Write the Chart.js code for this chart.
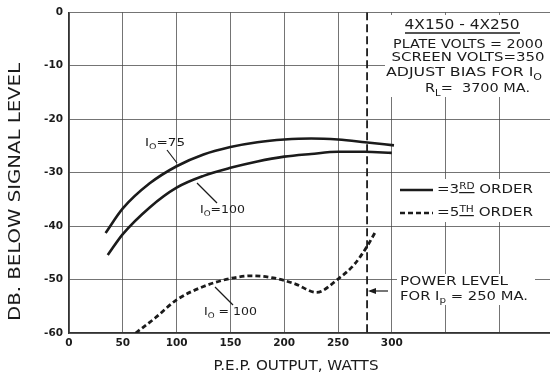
<!DOCTYPE html>
<html>
<head>
<meta charset="utf-8">
<script src="https://cdn.jsdelivr.net/npm/chart.js@4.4.0/dist/chart.umd.min.js"></script>
<style>
  html, body { margin: 0; background: #fff; }
  canvas { display: block; }
</style>
</head>
<body>
<canvas id="chart" width="550" height="376"></canvas>
<script>
// Distortion products vs P.E.P. output, 4X150 - 4X250
const wattsIo75 = [34, 50, 75, 100, 125, 150, 175, 200, 225, 250, 275, 302];
const dbIo75_3rd = [-41.3, -36.7, -32.0, -28.8, -26.6, -25.2, -24.3, -23.8, -23.6, -23.8, -24.3, -24.9];

const wattsIo100 = [36, 50, 75, 100, 125, 150, 175, 200, 225, 250, 275, 300];
const dbIo100_3rd = [-45.4, -41.5, -36.5, -32.8, -30.6, -29.1, -27.9, -27.0, -26.5, -26.1, -26.1, -26.3];

const watts5th = [62, 80, 100, 125, 150, 170, 190, 210, 230, 250, 265, 277, 285];
const dbIo100_5th = [-60, -57.2, -53.8, -51.3, -49.8, -49.3, -49.7, -50.8, -52.4, -49.9, -47.2, -43.8, -41.0];

const powerLimitWatts = 277;   // power level for Ip = 250 mA

const xTickValues = [0, 50, 100, 150, 200, 250, 300, 350, 400];
const xTickLabels = ['0', '50', '100', '150', '200', '250', '300', '', ''];
const yTickValues = [0, -10, -20, -30, -40, -50, -60];

const INK = '#1b1b1b';
const GRID = 'rgba(70,70,70,0.75)';
const FONT = '"DejaVu Sans", sans-serif';

const pts = (xs, ys) => xs.map((x, i) => ({ x, y: ys[i] }));

// texte en morceaux : [texte, 'sub' | 'sup' | 'supu'] ; largeur forcée si width
function rich(ctx, x, y, size, width, parts, align) {
  ctx.save();
  const items = parts.map((p) => {
    const [t, m = ''] = Array.isArray(p) ? p : [p];
    const s = m ? size * 0.7 : size;
    ctx.font = `${s}px ${FONT}`;
    return { t, m, s, w: ctx.measureText(t).width };
  });
  const total = items.reduce((a, b) => a + b.w, 0);
  const k = width ? width / total : 1;
  const x0 = align === 'center' ? x - (total * k) / 2 : x;
  ctx.translate(x0, y);
  ctx.scale(k, 1);
  ctx.textBaseline = 'middle';
  ctx.fillStyle = INK;
  let cx = 0;
  for (const it of items) {
    ctx.font = `${it.s}px ${FONT}`;
    let dy = 0;
    if (it.m === 'sub') dy = size * 0.32;
    if (it.m.startsWith('sup')) dy = -size * 0.28;
    ctx.fillText(it.t, cx, dy);
    if (it.m === 'supu') ctx.fillRect(cx, dy + it.s * 0.62, it.w, 1.2);
    cx += it.w;
  }
  ctx.restore();
}

function line(ctx, x1, y1, x2, y2, w, dash) {
  ctx.save();
  ctx.strokeStyle = INK;
  ctx.lineWidth = w;
  ctx.setLineDash(dash || []);
  ctx.beginPath();
  ctx.moveTo(x1, y1);
  ctx.lineTo(x2, y2);
  ctx.stroke();
  ctx.restore();
}

const annotations = {
  id: 'annotations',
  beforeDatasetsDraw(chart) {
    const ctx = chart.ctx;
    ctx.save();
    ctx.fillStyle = '#fff';
    ctx.fillRect(385, 15, 165, 82);    // bloc titre
    ctx.fillRect(395, 179, 155, 43);   // légende
    ctx.fillRect(397, 274, 138, 31);   // power level
    ctx.restore();
  },
  afterDraw(chart) {
    const ctx = chart.ctx;

    // titres d'axes
    ctx.save();
    ctx.translate(16, 192);
    ctx.rotate(-Math.PI / 2);
    rich(ctx, 0, 0, 15, 258, ['DB. BELOW SIGNAL LEVEL'], 'center');
    ctx.restore();
    rich(ctx, 296, 366, 14, 165, ['P.E.P. OUTPUT, WATTS'], 'center');

    // bloc titre
    rich(ctx, 462, 25, 14, 115, ['4X150 - 4X250'], 'center');
    line(ctx, 405, 33, 520, 33, 1.3);
    rich(ctx, 468, 45, 13, 150, ['PLATE VOLTS = 2000'], 'center');
    rich(ctx, 468, 58, 13, 153, ['SCREEN VOLTS=350'], 'center');
    rich(ctx, 464, 73, 13, 156, ['ADJUST BIAS FOR I', ['O', 'sub']], 'center');
    rich(ctx, 425, 89, 13, 105, ['R', ['L', 'sub'], '=  3700 MA.']);

    // légende
    line(ctx, 400, 190, 433, 190, 2.6);
    rich(ctx, 437, 190, 13, 96, ['=3', ['RD', 'supu'], ' ORDER']);
    line(ctx, 400, 213, 433, 213, 2.6, [5, 3]);
    rich(ctx, 437, 213, 13, 96, ['=5', ['TH', 'supu'], ' ORDER']);

    // power level
    rich(ctx, 400, 282, 12, 108, ['POWER LEVEL']);
    rich(ctx, 400, 297, 12, 128, ['FOR I', ['p', 'sub'], ' = 250 MA.']);
    line(ctx, 388, 291, 370, 291, 1.2);
    ctx.save();
    ctx.fillStyle = INK;
    ctx.beginPath();
    ctx.moveTo(368, 291);
    ctx.lineTo(376, 288);
    ctx.lineTo(376, 294);
    ctx.closePath();
    ctx.fill();
    ctx.restore();

    // étiquettes Io
    rich(ctx, 145, 143, 11, 40, ['I', ['O', 'sub'], '=75']);
    line(ctx, 167, 150, 177, 163, 1.2);
    rich(ctx, 200, 210, 11, 45, ['I', ['O', 'sub'], '=100']);
    line(ctx, 197, 183, 217, 203, 1.2);
    rich(ctx, 204, 312, 11, 53, ['I', ['O', 'sub'], ' = 100']);
    line(ctx, 215, 287, 233, 305, 1.2);
  },
};

const tickFont = { family: FONT, size: 10.5, weight: 'bold' };

new Chart(document.getElementById('chart'), {
  type: 'line',
  data: {
    datasets: [
      {
        label: '3rd order, Io = 75',
        data: pts(wattsIo75, dbIo75_3rd),
        borderColor: INK, borderWidth: 2.6,
        cubicInterpolationMode: 'monotone', pointRadius: 0,
      },
      {
        label: '3rd order, Io = 100',
        data: pts(wattsIo100, dbIo100_3rd),
        borderColor: INK, borderWidth: 2.6,
        cubicInterpolationMode: 'monotone', pointRadius: 0,
      },
      {
        label: '5th order, Io = 100',
        data: pts(watts5th, dbIo100_5th),
        borderColor: INK, borderWidth: 2.8, borderDash: [5, 3],
        cubicInterpolationMode: 'monotone', pointRadius: 0,
      },
      {
        label: 'Power level for Ip = 250 mA',
        data: [{ x: powerLimitWatts, y: yTickValues[0] }, { x: powerLimitWatts, y: yTickValues[yTickValues.length - 1] }],
        borderColor: INK, borderWidth: 1.8, borderDash: [8, 4], pointRadius: 0,
      },
    ],
  },
  options: {
    responsive: false, animation: false, devicePixelRatio: 1,
    layout: { padding: { top: 12, right: 0, left: 0, bottom: 0 } },
    plugins: { legend: { display: false }, tooltip: { enabled: false } },
    scales: {
      x: {
        type: 'linear', min: 0, max: 447,
        afterBuildTicks: (s) => { s.ticks = xTickValues.map((v) => ({ value: v })); },
        afterFit: (s) => { s.height = 43; },
        ticks: {
          color: INK, font: tickFont, padding: 4, maxRotation: 0, autoSkip: false,
          callback: (v) => xTickLabels[xTickValues.indexOf(v)] ?? '',
        },
        grid: { color: GRID, lineWidth: 1, drawTicks: false },
        border: { color: '#333', width: 1.5 },
      },
      y: {
        type: 'linear', min: -60, max: 0,
        afterBuildTicks: (s) => { s.ticks = yTickValues.map((v) => ({ value: v })); },
        afterFit: (s) => { s.width = 69; },
        ticks: { color: INK, font: tickFont, padding: 6 },
        grid: { color: GRID, lineWidth: 1, drawTicks: false },
        border: { color: '#333', width: 1.5 },
      },
    },
  },
  plugins: [annotations],
});
</script>
</body>
</html>
